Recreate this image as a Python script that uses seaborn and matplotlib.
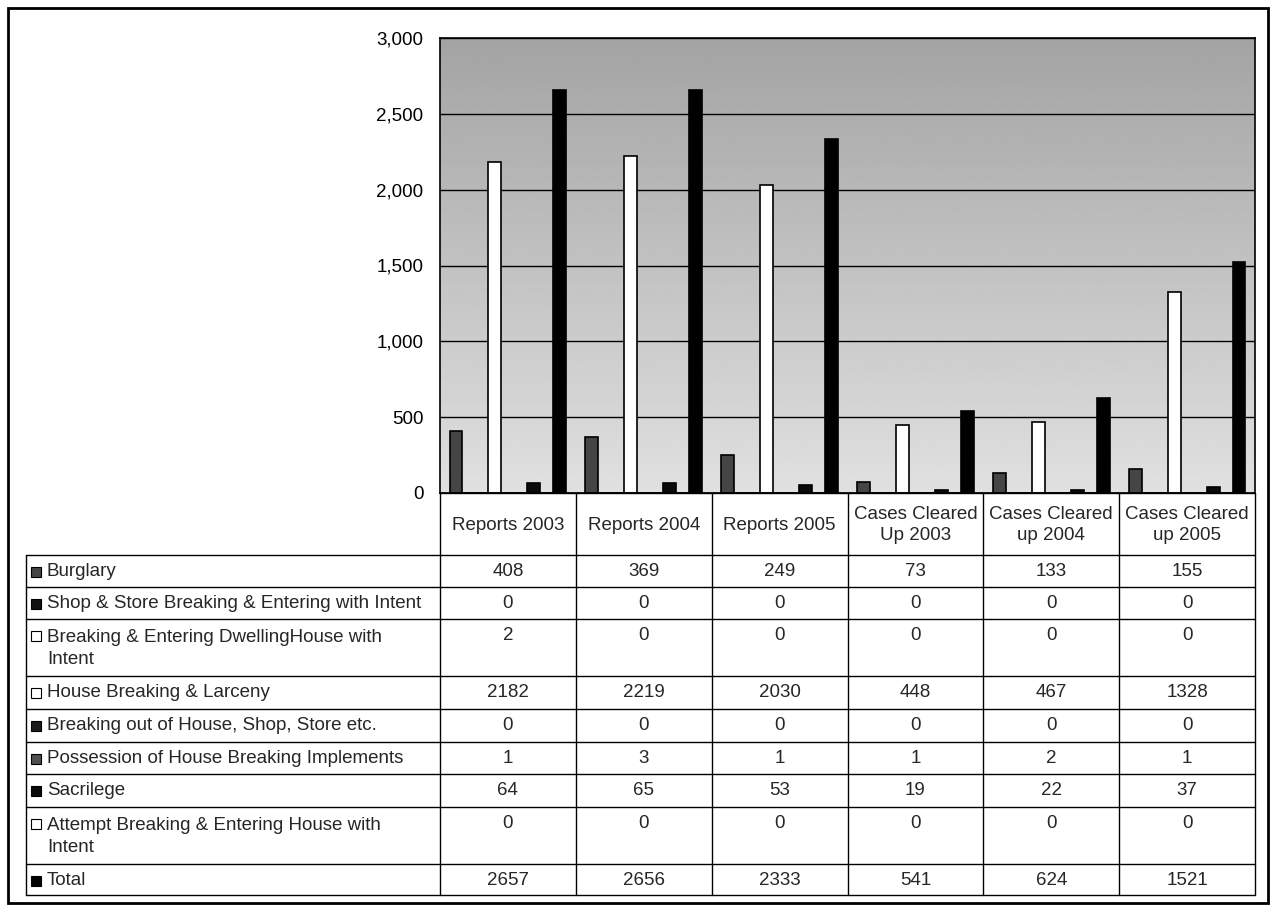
import numpy as np
import pandas as pd
import matplotlib
matplotlib.use("Agg")
import matplotlib.pyplot as plt
from matplotlib.patches import Rectangle
from matplotlib.lines import Line2D
import seaborn as sns

# ---------------- data ----------------
categories = ["Reports 2003", "Reports 2004", "Reports 2005",
              "Cases Cleared\nUp 2003", "Cases Cleared\nup 2004", "Cases Cleared\nup 2005"]
series_names = ["Burglary",
                "Shop & Store Breaking & Entering with Intent",
                "Breaking & Entering DwellingHouse with\nIntent",
                "House Breaking & Larceny",
                "Breaking out of House, Shop, Store etc.",
                "Possession of House Breaking Implements",
                "Sacrilege",
                "Attempt Breaking & Entering House with\nIntent",
                "Total"]
burglary = [408, 369, 249, 73, 133, 155]
shop_store = [0, 0, 0, 0, 0, 0]
dwelling = [2, 0, 0, 0, 0, 0]
house_larceny = [2182, 2219, 2030, 448, 467, 1328]
breaking_out = [0, 0, 0, 0, 0, 0]
possession = [1, 3, 1, 1, 2, 1]
sacrilege = [64, 65, 53, 19, 22, 37]
attempt = [0, 0, 0, 0, 0, 0]
total = [2657, 2656, 2333, 541, 624, 1521]
series_values = [burglary, shop_store, dwelling, house_larceny, breaking_out,
                 possession, sacrilege, attempt, total]
series_colors = ["#454545", "#111111", "#ffffff", "#ffffff", "#1a1a1a",
                 "#505050", "#0a0a0a", "#ffffff", "#000000"]
y_ticks = [0, 500, 1000, 1500, 2000, 2500, 3000]

rows = []
for name, vals in zip(series_names, series_values):
    for cat, v in zip(categories, vals):
        rows.append({"category": cat, "series": name, "value": v})
df = pd.DataFrame(rows)

# ---------------- figure ----------------
sns.set_style("white")
plt.rcParams["font.family"] = ["Liberation Sans", "DejaVu Sans"]
FS = 13.5

W, H = 1275, 907
fig = plt.figure(figsize=(W / 100, H / 100), dpi=100)
fig.patch.set_facecolor("white")

PL, PR, PT, PB = 440, 1255, 38, 493
ax = fig.add_axes([PL / W, 1 - PB / H, (PR - PL) / W, (PB - PT) / H])

# textured-looking background approximated by a vertical grey gradient
grad = np.linspace(0.88, 0.64, 256).reshape(-1, 1)
ax.imshow(grad, cmap="gray", vmin=0, vmax=1, aspect="auto",
          extent=[-0.5, 5.5, 0, 3000], origin="lower", zorder=0)

sns.barplot(data=df, x="category", y="value", hue="series",
            order=categories, hue_order=series_names,
            palette=dict(zip(series_names, series_colors)),
            width=0.86, gap=0, dodge=True, saturation=1,
            edgecolor="black", linewidth=1.2, legend=False, ax=ax, zorder=2)

ax.set_xlim(-0.5, 5.5)
ax.set_ylim(0, 3000)
ax.set_yticks(y_ticks)
ax.set_yticklabels([f"{t:,}" for t in y_ticks], fontsize=FS)
ax.set_xticks([])
ax.set_xlabel("")
ax.set_ylabel("")
ax.grid(axis="y", color="black", linewidth=1)
ax.set_axisbelow(True)
ax.tick_params(axis="y", direction="out", length=4, width=1, pad=8, colors="black")
for s in ax.spines.values():
    s.set_color("black")
    s.set_linewidth(1.2)

# ---------------- table overlay (pixel coordinates) ----------------
ov = fig.add_axes([0, 0, 1, 1])
ov.set_xlim(0, W)
ov.set_ylim(H, 0)
ov.axis("off")
ov.patch.set_alpha(0)

TL = 26
ncol = len(categories)
col_w = (PR - PL) / ncol
col_edges = [PL + i * col_w for i in range(ncol + 1)]
row_h = [32, 32, 57, 33, 33, 32, 33, 57, 31]
HEAD_TOP, HEAD_BOT = PB, 555
row_edges = [HEAD_BOT]
for h in row_h:
    row_edges.append(row_edges[-1] + h)
TB = row_edges[-1]

lk = dict(color="black", linewidth=1)
for x in col_edges:
    ov.add_line(Line2D([x, x], [HEAD_TOP, TB], **lk))
ov.add_line(Line2D([TL, TL], [HEAD_BOT, TB], **lk))
ov.add_line(Line2D([PL, PR], [HEAD_TOP, HEAD_TOP], **lk))
for y in row_edges:
    ov.add_line(Line2D([TL, PR], [y, y], **lk))

# header texts
for i, cat in enumerate(categories):
    cx = (col_edges[i] + col_edges[i + 1]) / 2
    ov.text(cx, (HEAD_TOP + HEAD_BOT) / 2 + 1, cat, ha="center", va="center",
            fontsize=FS, linespacing=1.25)

# rows
for r, (name, vals, col) in enumerate(zip(series_names, series_values, series_colors)):
    top = row_edges[r]
    bot = row_edges[r + 1]
    first_line_y = top + 16.5
    two_line = "\n" in name
    label_y = (top + bot) / 2 + 1 if two_line else first_line_y
    ov.add_patch(Rectangle((31, first_line_y - 5), 10, 10, facecolor=col,
                           edgecolor="black", linewidth=0.8))
    ov.text(47, label_y, name, ha="left", va="center", fontsize=FS,
            linespacing=1.4)
    for i, v in enumerate(vals):
        cx = (col_edges[i] + col_edges[i + 1]) / 2
        ov.text(cx, first_line_y, f"{v}", ha="center", va="center", fontsize=FS)

# outer frame
ov.add_patch(Rectangle((8, 8), 1260, 895, facecolor="none", edgecolor="black",
                       linewidth=2))

fig.savefig("out.png", dpi=100)
